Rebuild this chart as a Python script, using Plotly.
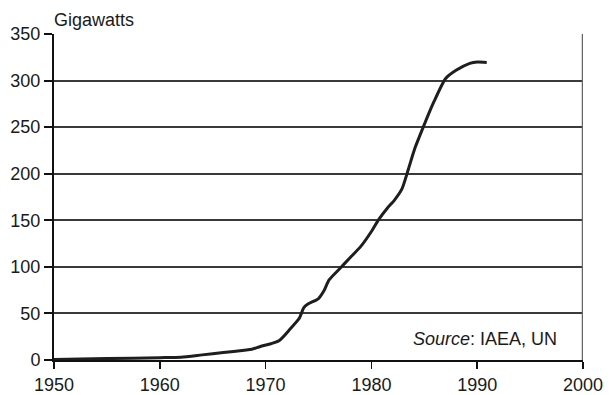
import plotly.graph_objects as go

years = [1950, 1955, 1960, 1962, 1964, 1966, 1968, 1968.7, 1969.5, 1970.5,
         1971.3, 1972.3, 1973.2, 1973.6, 1974.0, 1975.0, 1975.5, 1976.0,
         1977.0, 1978.0, 1979.0, 1980.0, 1980.7, 1981.5, 1982.2, 1982.9,
         1983.5, 1984.1, 1984.9, 1985.9, 1987.0, 1988.0, 1989.3, 1990.0, 1990.9]
gigawatts = [0.5, 1.5, 2.5, 3, 5.5, 8, 10.5, 11.5, 14.5, 17.5,
             21, 33, 45, 56, 60, 66, 74, 86,
             98, 110, 122, 138, 151, 163, 172, 184,
             205, 227, 250, 277, 302, 311, 318.5, 320, 319.5]

x_ticks = [1950, 1960, 1970, 1980, 1990, 2000]
y_ticks = [0, 50, 100, 150, 200, 250, 300, 350]

FONT = "Liberation Sans, Arial, Helvetica, sans-serif"

fig = go.Figure()
fig.add_trace(go.Scatter(
    x=years, y=gigawatts, mode="lines",
    line=dict(color="#1e1e1e", width=3, shape="spline", smoothing=0.6),
    showlegend=False, hoverinfo="skip",
))

fig.update_layout(
    width=609, height=395,
    margin=dict(l=54, r=26, t=34, b=35),
    paper_bgcolor="white", plot_bgcolor="white",
    font=dict(family=FONT, size=18, color="#1a1a1a"),
    xaxis=dict(
        range=[1950, 2000], tickvals=x_ticks, ticktext=[str(v) for v in x_ticks],
        showgrid=False, zeroline=False, automargin=False,
        showline=True, linecolor="#111", linewidth=2,
        ticks="outside", ticklen=7, tickwidth=1.5, tickcolor="#111",
        tickfont=dict(size=18), fixedrange=True,
    ),
    yaxis=dict(
        range=[0, 350], tickvals=y_ticks, automargin=False,
        showgrid=True, gridcolor="#3a3a3a", gridwidth=2, zeroline=False,
        showline=True, linecolor="#111", linewidth=2,
        ticks="outside", ticklen=8, tickwidth=2, tickcolor="#111",
        tickfont=dict(size=18), fixedrange=True,
    ),
    shapes=[dict(type="line", xref="x", yref="y", x0=2000, x1=2000, y0=0, y1=350,
                 line=dict(color="#666", width=2.5))],
    annotations=[
        dict(text="Gigawatts", xref="paper", yref="paper", x=0, y=1,
             xanchor="left", yanchor="bottom", xshift=-2, yshift=2,
             showarrow=False, font=dict(size=18)),
        dict(text="<i>Source</i>: IAEA, UN", xref="x", yref="y", x=1997.7, y=22.5,
             xanchor="right", yanchor="middle", showarrow=False, font=dict(size=18)),
    ],
)

fig.write_html("out.html", config={"displayModeBar": False, "staticPlot": True},
               post_script="document.body.style.margin='0';")
